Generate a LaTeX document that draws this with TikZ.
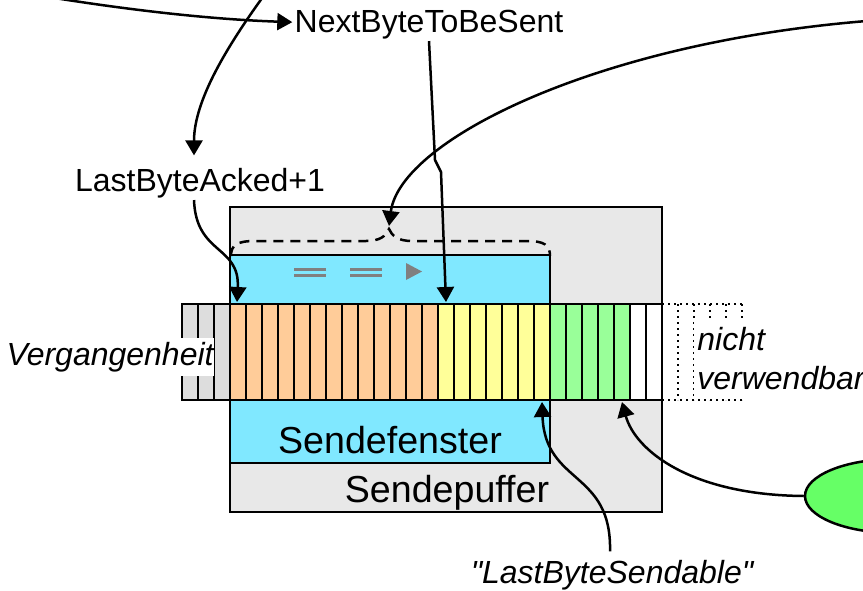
\documentclass[tikz,border=0pt]{standalone}
\usepackage{fontspec}
\setmainfont{Liberation Sans}
\newfontfamily\plainsans{Liberation Sans}
\usetikzlibrary{arrows.meta, shapes.geometric}
\definecolor{bufgray}{HTML}{E8E8E8}
\definecolor{wincyan}{HTML}{80E8FF}
\definecolor{oldgray}{HTML}{DDDDDD}
\definecolor{sentorange}{HTML}{FFCC99}
\definecolor{openyellow}{HTML}{FFFF99}
\definecolor{freegreen}{HTML}{99FF99}
\definecolor{limgreen}{HTML}{66FF66}

\begin{document}
\begin{tikzpicture}[x=0.5pt, y=-0.5pt, >={Triangle[length=7.5pt,width=8.5pt]},
  lbl/.style={font=\fontsize{16}{19.5}\selectfont, inner sep=1pt},
  itl/.style={lbl, font=\fontsize{16}{19.5}\selectfont\itshape},
  bigl/.style={font=\fontsize{18.8}{22}\selectfont, inner sep=1pt},
  cell/.style={draw, line width=1pt},
  arr/.style={->, line width=1.25pt}]
\useasboundingbox (0,0) rectangle (863,590);
% send buffer and send window
\draw[fill=bufgray, line width=1pt] (230,207) rectangle (662,512);
\draw[fill=wincyan, line width=1pt] (230,255) rectangle (550,463);
\node[bigl, anchor=base] (buffer) at (447,502) {Sendepuffer};
\node[bigl, anchor=base] (window) at (390,453) {Sendefenster};
% brace over the window, peak is where the long arrow lands
\draw[dashed, dash pattern=on 5pt off 3.5pt, line width=1.25pt]
  (231,256) .. controls (231,245) and (237,241) .. (255,241) -- (366,241)
  .. controls (380,241) and (386,236) .. (389,229)
  .. controls (392,236) and (398,241) .. (412,241) -- (527,241)
  .. controls (544,241) and (550,245) .. (550,256);
\coordinate (peak) at (389,226);
% window moves to the right
\foreach \x in {294, 350} {
    \draw[gray, line width=1.5pt] (\x,269) -- ++(32,0);
    \draw[gray, line width=1.5pt] (\x,275) -- ++(32,0);
}
\fill[gray] (406,263) -- (422,271.5) -- (406,280) -- cycle;
% byte cells: past, sent, sendable, free, empty
\foreach \i in {0,...,2}   { \draw[cell, fill=oldgray] (182+16*\i,304) rectangle ++(16,96); }
\foreach \i in {3,...,15}  { \draw[cell, fill=sentorange] (182+16*\i,304) rectangle ++(16,96); }
\foreach \i in {16,...,22} { \draw[cell, fill=openyellow] (182+16*\i,304) rectangle ++(16,96); }
\foreach \i in {23,...,27} { \draw[cell, fill=freegreen] (182+16*\i,304) rectangle ++(16,96); }
\foreach \i in {28,29}     { \draw[cell, fill=white] (182+16*\i,304) rectangle ++(16,96); }
% cells beyond the buffer
\draw[dotted, line width=1pt] (662,304) -- (742,304) (662,400) -- (742,400);
\foreach \x in {678, 694, 710, 726, 742} {
    \draw[dotted, line width=1pt] (\x,304) -- (\x,400);
}
\node[itl, fill=white, inner xsep=0pt, inner ysep=2pt, text height=11.5pt, text depth=3.4pt, anchor=base east] (past) at (214,365) {Vergangenheit};
\node[itl, fill=white, align=left, anchor=north west, inner xsep=1.5pt, inner ysep=3pt] (unused) at (694,321) {nicht\\verwendbar};
% pointer labels
\node[lbl, anchor=base] (nbs) at (429,32) {NextByteToBeSent};
\node[lbl, anchor=base] (lba) at (200,191) {LastByteAcked+1};
\node[lbl, font=\fontsize{16}{19.5}\plainsans\itshape, anchor=base] (lbs) at (612,583) {"LastByteSendable"};
\node[ellipse, draw, line width=1.25pt, fill=limgreen, minimum width=90pt, minimum height=37pt] (lim) at (895,496) {};
% pointer targets
\coordinate (srcA) at (30,-6);
\coordinate (srcB) at (265,-6);
\coordinate (srcD) at (880,20);
\coordinate (ackcell) at (237,302);
\coordinate (nextcell) at (446,302);
\coordinate (sendcell) at (542,402);
\coordinate (freecell) at (622,402);
\draw[arr] (srcA) .. controls (150,14) and (230,20) .. ([yshift=1pt]nbs.west);
\draw[arr] (srcB) .. controls (228,45) and (194,100) .. ([xshift=-3pt,yshift=5pt]lba.north);
\draw[arr, line join=round] (nbs.south) -- (435,160) -- (441,172) -- (nextcell);
\draw[arr] (srcD) .. controls (600,40) and (400,140) .. (peak);
\draw[arr] ([xshift=-3pt]lba.south) .. controls (196,255) and (240,245) .. (ackcell);
\draw[arr] ([xshift=-1pt,yshift=3pt]lbs.north) .. controls (612,470) and (545,485) .. (sendcell);
\draw[arr] (lim.west) .. controls (690,495) and (635,450) .. (freecell);
\end{tikzpicture}
\end{document}
